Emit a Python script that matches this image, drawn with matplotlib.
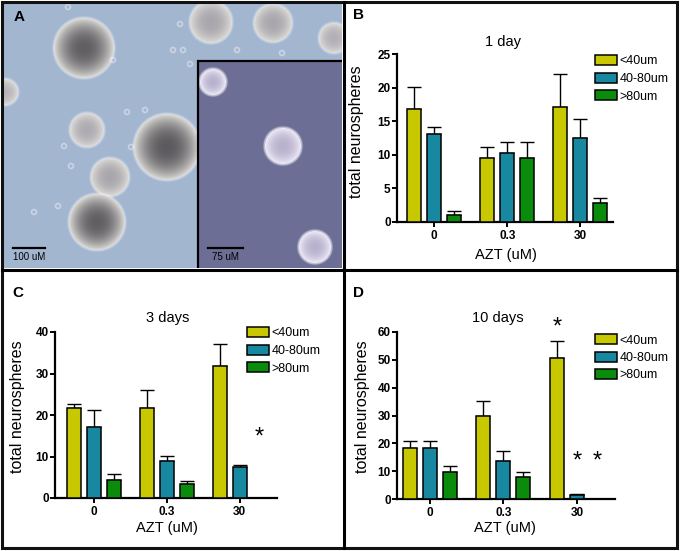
import numpy as np
import matplotlib.pyplot as plt
from matplotlib.patches import Rectangle

plt.rcParams['font.family'] = ['Liberation Sans', 'DejaVu Sans']

W, H = 680, 551

sizes = ['<40um', '40-80um', '>80um']
doses = ['0', '0.3', '30']
colors = ['#c8c800', '#1788a0', '#0b8b0b']

# panel B, 1 day
b_small = [16.8, 9.5, 17.1]
b_small_err = [3.3, 1.7, 4.9]
b_mid = [13.1, 10.2, 12.5]
b_mid_err = [1.1, 1.7, 2.9]
b_large = [1.1, 9.5, 2.8]
b_large_err = [0.6, 2.4, 0.7]

# panel C, 3 days
c_small = [21.8, 21.8, 31.8]
c_small_err = [0.8, 4.2, 5.4]
c_mid = [17.2, 9.0, 7.4]
c_mid_err = [4.0, 1.2, 0.6]
c_large = [4.4, 3.4, np.nan]
c_large_err = [1.4, 0.8, np.nan]

# panel D, 10 days
d_small = [18.3, 29.7, 50.7]
d_small_err = [2.4, 5.6, 5.9]
d_mid = [18.3, 13.5, 1.6]
d_mid_err = [2.4, 3.9, 0.2]
d_large = [9.7, 7.9, np.nan]
d_large_err = [2.3, 1.8, np.nan]

# significance marks: (dose index, size index, y)
c_stars = [(2, 2, 14.5)]
d_stars = [(2, 0, 61.5), (2, 1, 13.5), (2, 2, 13.5)]

# panel A photo: spheres (x, y, radius, core grey)
sph_x = [84, 211, 273, 334, 5, 87, 167, 110, 97]
sph_y = [48, 22, 23, 38, 92, 130, 147, 177, 222]
sph_r = [30, 21, 19, 15, 13, 17, 33, 19, 28]
sph_core = [0.40, 0.70, 0.70, 0.74, 0.76, 0.72, 0.38, 0.70, 0.40]
ins_x = [213, 283, 315]
ins_y = [82, 146, 247]
ins_r = [13, 18, 16]
bub_x = [68, 180, 173, 183, 190, 127, 145, 64, 71, 58, 34, 237, 282, 131, 113]
bub_y = [7, 24, 50, 50, 64, 112, 110, 146, 166, 206, 212, 50, 53, 147, 60]


def px_axes(l, t, r, b):
    return fig.add_axes([l / W, 1 - b / H, (r - l) / W, (b - t) / H])


fig = plt.figure(figsize=(W / 100, H / 100), dpi=100)

# ---- panel A (photo stand-in)
axA = px_axes(2, 2, 342, 268)
yy, xx = np.mgrid[0:266, 0:340] + 0.5
xx = xx + 2
yy = yy + 2
img = np.ones((266, 340, 3)) * np.array([163, 182, 208]) / 255
ins_mask = (xx >= 198) & (yy >= 61)


def blob(cx, cy, r, core, rim, halo):
    d = np.hypot(xx - cx, yy - cy) / r
    w = np.clip(d, 0, 1) ** 2.2
    col = core[None, None, :] * (1 - w[..., None]) + rim[None, None, :] * w[..., None]
    a = np.clip((1 - d) * r + 0.5, 0, 1)[..., None]
    img[:] = img * (1 - a) + col * a
    dist = (d - 1) * r
    g = (halo * np.exp(-((dist - 0.6) / 1.1) ** 2))[..., None]
    img[:] = img * (1 - g) + g


rim = np.array([222, 220, 216]) / 255
for cx, cy, r, c in zip(sph_x, sph_y, sph_r, sph_core):
    blob(cx, cy, r, np.array([c, c * 0.98, c * 1.02]) * 0.95, rim, 0.35)
img[ins_mask] = np.array([108, 110, 150]) / 255
for cx, cy, r in zip(ins_x, ins_y, ins_r):
    blob(cx, cy, r, np.array([185, 178, 205]) / 255, np.array([238, 234, 248]) / 255, 0.55)
for cx, cy in zip(bub_x, bub_y):
    d = np.hypot(xx - cx, yy - cy)
    g = (0.45 * np.exp(-((d - 2.4) / 0.9) ** 2))[..., None]
    img[:] = img * (1 - g) + g
axA.imshow(np.clip(img, 0, 1), extent=(2, 342, 268, 2), aspect='auto', interpolation='bilinear')
axA.set_xlim(2, 342)
axA.set_ylim(268, 2)
axA.axis('off')
axA.add_patch(Rectangle((198, 61), 150, 220, fill=False, ec='black', lw=1.6))
axA.plot([13, 45], [248, 248], color='black', lw=1.6)
axA.text(29, 257, '100 uM', ha='center', va='center', fontsize=7)
axA.plot([208, 243], [248, 248], color='black', lw=1.6)
axA.text(225, 257, '75 uM', ha='center', va='center', fontsize=7)
axA.text(19, 17, 'A', ha='center', va='center', fontsize=11, fontweight='bold')


def bar_panel(box, xlim, ymax, ystep, series, errs, stars, title, tpos, xlpos, ylpos,
              lab, lpos, legpos):
    ax = px_axes(*box)
    x = np.arange(len(doses))
    off = [-0.273, 0.0, 0.273]
    for i, (vals, er) in enumerate(zip(series, errs)):
        ax.bar(x + off[i], vals, width=0.19, color=colors[i], edgecolor='black',
               linewidth=1.1, label=sizes[i], zorder=3)
        ax.errorbar(x + off[i], vals, yerr=[np.zeros(len(er)), er], fmt='none',
                    ecolor='black', elinewidth=1.0, capsize=5, capthick=1.0, zorder=2)
    for gi, si, yv in stars:
        ax.text(gi + off[si], yv, '*', ha='center', va='center', fontsize=17)
    ax.set_xlim(*xlim)
    ax.set_ylim(0, ymax)
    ax.set_yticks(np.arange(0, ymax + 0.1, ystep))
    ax.set_xticks(x)
    ax.set_xticklabels(doses)
    for s in ['top', 'right']:
        ax.spines[s].set_visible(False)
    for s in ['left', 'bottom']:
        ax.spines[s].set_linewidth(1.6)
    ax.tick_params(axis='both', direction='out', length=3.5, width=1.4, labelsize=8.5)
    ax.tick_params(axis='y', pad=1)
    ax.tick_params(axis='x', pad=2.5)
    for t in ax.get_xticklabels() + ax.get_yticklabels():
        t.set_fontweight('bold')
    ax.set_facecolor('none')
    ax.legend(loc='upper left', bbox_to_anchor=(legpos[0] / W, 1 - legpos[1] / H),
              bbox_transform=fig.transFigure, frameon=False, fontsize=9,
              borderpad=0, borderaxespad=0, handlelength=1.75, handleheight=0.9,
              handletextpad=0.2, labelspacing=0.4)
    fig.text(tpos[0] / W, 1 - tpos[1] / H, title, ha='center', va='center', fontsize=10.5)
    fig.text(xlpos[0] / W, 1 - xlpos[1] / H, 'AZT (uM)', ha='center', va='center', fontsize=10.5)
    fig.text(ylpos[0] / W, 1 - ylpos[1] / H, 'total neurospheres', ha='center', va='center',
             rotation=90, fontsize=11.5)
    fig.text(lpos[0] / W, 1 - lpos[1] / H, lab, ha='center', va='center', fontsize=11,
             fontweight='bold')
    return ax


bar_panel((397, 54, 613, 222), (-0.51, 2.45), 25, 5,
          [b_small, b_mid, b_large], [b_small_err, b_mid_err, b_large_err], [],
          '1 day', (503, 42), (506, 255), (357, 132), 'B', (358, 15), (595, 55))
bar_panel((55, 332, 277, 498), (-0.53, 2.51), 40, 10,
          [c_small, c_mid, c_large], [c_small_err, c_mid_err, c_large_err], c_stars,
          '3 days', (168, 318), (167, 528), (18, 407), 'C', (18, 293), (247, 327))
bar_panel((397, 332, 615, 499), (-0.45, 2.52), 60, 10,
          [d_small, d_mid, d_large], [d_small_err, d_mid_err, d_large_err], d_stars,
          '10 days', (498, 318), (505, 528), (362, 407), 'D', (358, 293), (595, 334))

# ---- panel frames
ov = fig.add_axes([0, 0, 1, 1])
ov.set_xlim(0, W)
ov.set_ylim(H, 0)
ov.axis('off')
ov.patch.set_alpha(0)
ov.add_patch(Rectangle((1.5, 1.5), 675.5, 546.5, fill=False, ec='#111111', lw=2.2))
ov.plot([344, 344], [1.5, 548], color='black', lw=2.2)
ov.plot([1.5, 677], [270, 270], color='black', lw=2.2)

fig.savefig('out.png', dpi=100)
